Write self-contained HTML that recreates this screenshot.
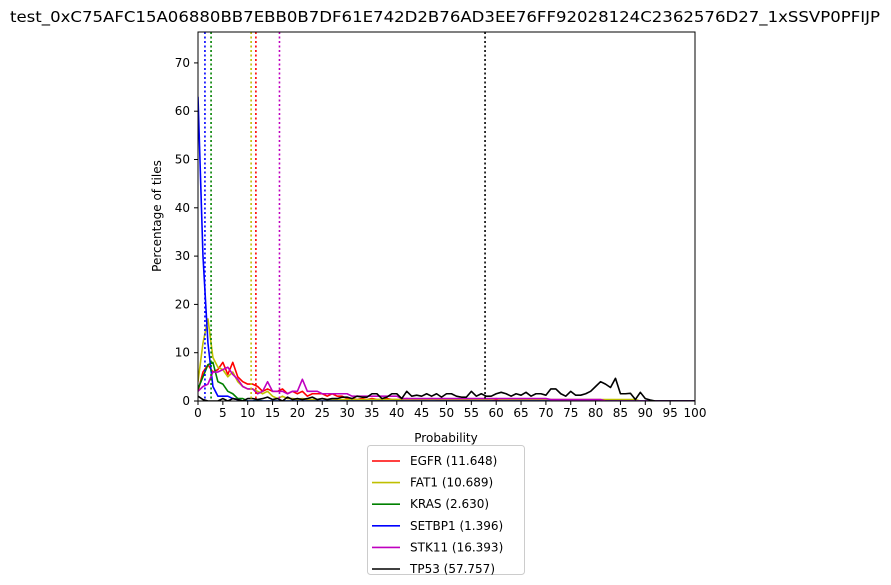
<!DOCTYPE html>
<html><head><meta charset="utf-8"><style>
body{margin:0;background:#fff;font-family:"Liberation Sans","DejaVu Sans",sans-serif;}
svg{display:block}
</style></head><body>
<svg id="chart" width="891" height="585" font-family="'DejaVu Sans','Liberation Sans',sans-serif"></svg>
<script>
const xTicks=[0,5,10,15,20,25,30,35,40,45,50,55,60,65,70,75,80,85,90,95,100];
const yTicks=[0,10,20,30,40,50,60,70];
const seriesNames=["EGFR (11.648)","FAT1 (10.689)","KRAS (2.630)","SETBP1 (1.396)","STK11 (16.393)","TP53 (57.757)"];
const seriesColors=["#ff0000","#bfbf00","#008000","#0000ff","#bf00bf","#000000"];
const thresholds=[11.648,10.689,2.630,1.396,16.393,57.757];
const egfr=[2,6,7.5,6,6.5,8,5.5,8,5,4,3.5,3.5,3,2,2.5,2,2,2.5,1.5,2,1.5,2,1,1.5,1.5,1.5,1,1.5,1,1,0.5,0.5,0.3,0.5,0.3,0.5,0.3,0.3,0.5,0.3,0.3,0.3,0.5,0.3,0.3,0.3,0.3,0.5,0.3,0.3,0.3,0.3,0.3,0.3,0.3,0.3,0.3,0.3,0.3,0.3,0.2,0,0,0,0,0,0,0,0,0,0,0,0,0,0,0,0,0,0,0,0,0,0,0,0,0,0,0,0,0,0,0,0,0,0,0,0,0,0,0,0];
const fat1=[4,12,17,9,7,6.5,5,6,4,3,2.5,2.5,2,1.5,2,1,0.5,1,0.5,0.5,0.3,0.5,0.3,0.3,0.3,0.5,0.3,0.3,0.3,0.3,0.3,0.3,0.3,0.3,0.3,0.3,0.3,0.3,0.3,0.3,0.3,0.3,0.3,0.3,0.3,0.3,0.3,0.3,0.3,0.3,0.3,0.3,0.3,0.3,0.3,0.3,0.3,0.3,0.3,0.3,0.5,0.3,0.3,0.3,0.3,0.3,0.3,0.3,0.3,0.3,0.3,0.3,0.3,0.3,0.3,0.3,0.3,0.3,0.3,0.3,0.3,0.3,0.3,0.3,0.3,0.3,0.3,0.3,0.3,0,0,0,0,0,0,0,0,0,0,0,0];
const kras=[2.5,5,7.5,8,4,3.5,2,1.5,0.5,0.5,0,0,0.2,0,0,0,0,0,0,0,0,0,0,0,0,0,0,0,0,0,0,0,0,0,0,0,0,0,0,0,0,0,0,0,0,0,0,0,0,0,0,0,0,0,0,0,0,0,0,0,0,0,0,0,0,0,0,0,0,0,0,0,0,0,0,0,0,0,0,0,0,0,0,0,0,0,0,0,0,0,0,0,0,0,0,0,0,0,0,0,0];
const setbp1=[63,30,12,3,1,1,1,0.5,0.3,0,0,0,0,0,0,0,0,0,0,0,0,0,0,0,0,0,0,0,0,0,0,0,0,0,0,0,0,0,0,0,0,0,0,0,0,0,0,0,0,0,0,0,0,0,0,0,0,0,0,0,0,0,0,0,0,0,0,0,0,0,0,0,0,0,0,0,0,0,0,0,0,0,0,0,0,0,0,0,0,0,0,0,0,0,0,0,0,0,0,0,0];
const stk11=[2,3,3.5,6,6,6.5,7,5.5,4.5,3,2.5,2.5,1.5,2,4,2,2,2,1.5,2,2,4.5,2,2,2,1.5,1.5,1.5,1.5,1.5,1.5,1,1,1,1,1,1,1,1,1,1,0.5,0.5,0.5,0.5,0.5,0.5,0.5,0.5,0.5,0.5,0.5,0.5,0.5,0.5,0.5,0.5,0.5,0.5,0.5,0.5,0.5,0.5,0.5,0.5,0.5,0.5,0.5,0.5,0.5,0.5,0.3,0.3,0.3,0.3,0.3,0.3,0.3,0.3,0.3,0.3,0.3,0,0,0,0,0,0,0,0,0,0,0,0,0,0,0,0,0,0,0];
const tp53=[1,0.3,0,0,0,0.5,0,0.5,0.3,0,0.5,0.5,0.3,0.5,0.8,0.3,0.5,0,0.8,0.3,0.5,0.3,0.5,0.8,0.3,0.5,0.3,0.5,0.5,0.8,0.8,0.5,1,0.8,0.8,1.5,1.5,0.5,0.8,1.5,1.5,0.5,2,1,1.2,1,1.5,1,1.5,0.8,1.5,1.5,1,0.8,0.8,2,1,1.5,1,1,1.5,1.8,1.5,1,1.5,1.2,1.8,1,1.5,1.5,1.2,2.5,2.5,1.5,1,2,1.2,1.2,1.5,2,3,4,3.5,2.8,4.7,1.5,1.5,1.6,0.3,1.8,0.5,0.2,0,0,0,0,0,0,0,0,0];
const seriesData=[egfr,fat1,kras,setbp1,stk11,tp53];

const NS="http://www.w3.org/2000/svg";
const svg=document.getElementById('chart');
const L=198,R=695,T=32,B=401,YMAX=76.4;
const xs=v=>L+(v/100)*(R-L);
const ys=v=>B-(v/YMAX)*(B-T);
function mk(tag,attrs,parent){const e=document.createElementNS(NS,tag);for(const k in attrs)e.setAttribute(k,attrs[k]);(parent||svg).appendChild(e);return e;}

const title=mk('text',{x:445,y:22,'text-anchor':'middle','font-size':15,textLength:870,lengthAdjust:'spacingAndGlyphs'});
title.textContent='test_0xC75AFC15A06880BB7EBB0B7DF61E742D2B76AD3EE76FF92028124C2362576D27_1xSSVP0PFIJP';



const plot=mk('g',{'clip-path':'url(#clip)'});


const defs=mk('defs',{});const cp=mk('clipPath',{id:'clip'},defs);mk('rect',{x:L,y:T,width:R-L,height:B-T},cp);

seriesData.forEach((arr,i)=>{
  const d=arr.map((v,j)=>(j?'L':'M')+xs(j).toFixed(2)+','+ys(v).toFixed(2)).join('');
  const p=mk('path',{d:d,fill:'none',stroke:seriesColors[i],'stroke-width':1.6,'stroke-linejoin':'round'},plot);
  
  
});
thresholds.forEach((t,i)=>{
  const l=mk('line',{x1:xs(t),x2:xs(t),y1:T,y2:B,stroke:seriesColors[i],'stroke-width':1.6,'stroke-dasharray':'2,2.5'},plot);
  
  
});

const frame=mk('rect',{x:L,y:T,width:R-L,height:B-T,fill:'none',stroke:'#000','stroke-width':1});



xTicks.forEach(v=>{
  mk('line',{x1:xs(v),x2:xs(v),y1:B,y2:B+4,stroke:'#000'});
  const t=mk('text',{x:xs(v),y:B+16,'text-anchor':'middle','font-size':12});
  t.textContent=v;
  
  
});
yTicks.forEach(v=>{
  mk('line',{x1:L-4,x2:L,y1:ys(v),y2:ys(v),stroke:'#000'});
  const t=mk('text',{x:L-8,y:ys(v)+4,'text-anchor':'end','font-size':12});
  t.textContent=v;
  
  
});
const xt=mk('text',{x:446,y:442,'text-anchor':'middle','font-size':12});
xt.textContent='Probability';


const yt=mk('text',{x:161,y:216,'text-anchor':'middle','font-size':12,transform:'rotate(-90 161 216)'});
yt.textContent='Percentage of tiles';



const lg=mk('g',{});


mk('rect',{x:367.5,y:445.5,width:157,height:129,rx:3,fill:'#fff',stroke:'#ccc'},lg);
seriesNames.forEach((n,i)=>{
  const y=461+i*21.6;
  const e=mk('g',{},lg);
  
  
  mk('line',{x1:372,x2:400,y1:y,y2:y,stroke:seriesColors[i],'stroke-width':1.6},e);
  const t=mk('text',{x:410,y:y+4,'font-size':12},e);
  t.textContent=n;
});
</script>
</body></html>
